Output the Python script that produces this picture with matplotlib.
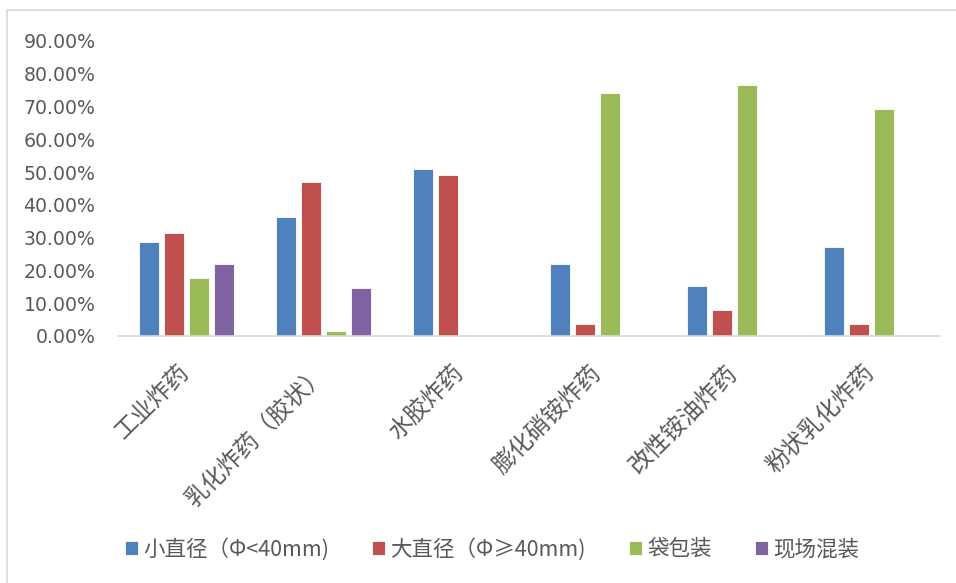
import matplotlib
matplotlib.use("Agg")
import matplotlib.pyplot as plt
from matplotlib.patches import Rectangle
import numpy as np

plt.rcParams['font.family'] = ['Noto Sans CJK SC', 'DejaVu Sans']

categories = ["工业炸药", "乳化炸药（胶状）", "水胶炸药", "膨化硝铵炸药", "改性铵油炸药", "粉状乳化炸药"]
series_names = ["小直径（Φ<40mm)", "大直径（Φ≥40mm)", "袋包装", "现场混装"]
small_dia = [28.6, 36.3, 50.8, 22.0, 15.3, 27.0]
large_dia = [31.3, 47.0, 49.0, 3.6, 7.9, 3.6]
bagged = [17.6, 1.5, np.nan, 74.0, 76.7, 69.3]
onsite = [21.9, 14.5, np.nan, np.nan, np.nan, np.nan]
y_ticks = [0, 10, 20, 30, 40, 50, 60, 70, 80, 90]

colors = ["#4F81BD", "#C0504D", "#9BBB59", "#8064A2"]
text_color = "#595959"

fig = plt.figure(figsize=(9.56, 5.83), dpi=100)
ax = fig.add_axes([0.123, 0.4237, 0.860, 0.506])

# outer chart border
fig.patches.append(Rectangle((7 / 956, -0.1), 1.2, 1 - 10 / 583 + 0.1,
                             transform=fig.transFigure, fill=False,
                             edgecolor="#D9D9D9", linewidth=1.2))

x = np.arange(len(categories))
slot = 0.182
width = 0.146
all_series = [small_dia, large_dia, bagged, onsite]
for i, vals in enumerate(all_series):
    ax.bar(x + (i - 1.5) * slot, vals, width, color=colors[i],
           edgecolor="white", linewidth=0.6, label=series_names[i])

ax.set_xlim(-0.5, len(categories) - 0.5)
ax.set_ylim(0, 90)
ax.set_yticks(y_ticks, labels=["{:.2f}%".format(t) for t in y_ticks],
              fontfamily="DejaVu Sans", fontsize=13.6)

for s in ["top", "right", "left"]:
    ax.spines[s].set_visible(False)
ax.spines["bottom"].set_color("#D9D9D9")
ax.spines["bottom"].set_linewidth(1.2)
ax.tick_params(axis="both", length=0, colors=text_color)
ax.tick_params(axis="y", pad=16)

ax.set_xticks(x)
ax.set_xticklabels(categories, rotation=45, ha="right", va="center",
                   rotation_mode="anchor", fontsize=17, color=text_color)
ax.tick_params(axis="x", pad=24)

fig.legend(loc="center", bbox_to_anchor=(492 / 956, 1 - 549 / 583), ncol=4,
           frameon=False, fontsize=15.5, handlelength=0.6, handleheight=0.6,
           handletextpad=0.25, columnspacing=2.0, labelcolor=text_color)

fig.savefig("out.png", dpi=100)
